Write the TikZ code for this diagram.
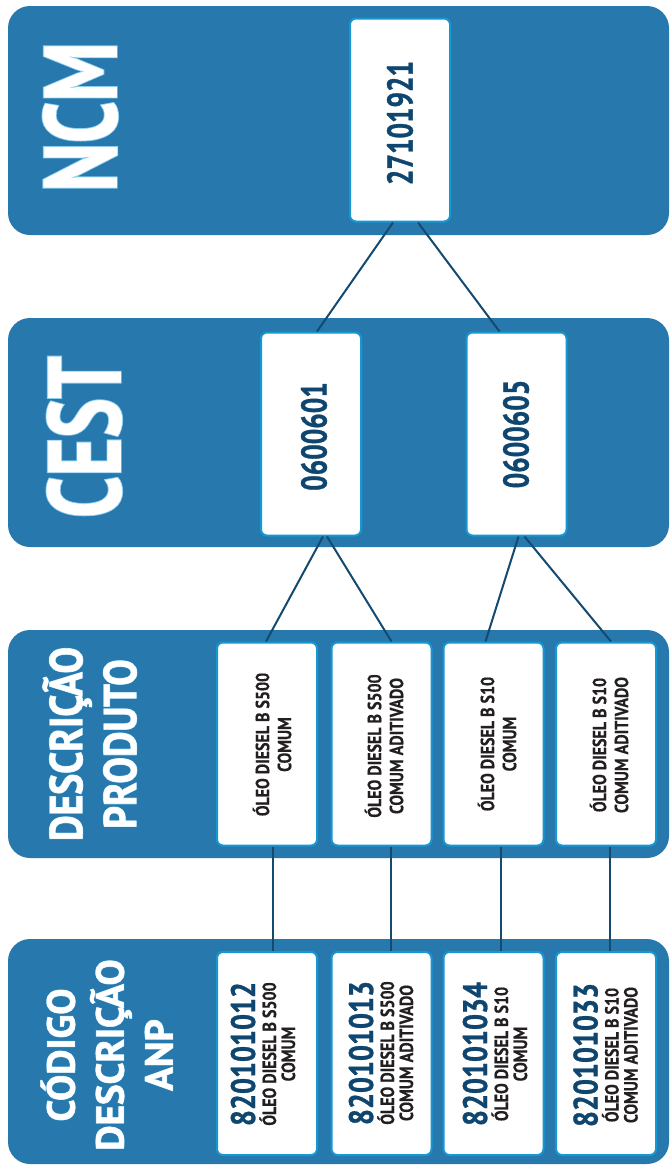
\documentclass[tikz,border=0pt]{standalone}
\usepackage{fontspec}
\setmainfont{PT Sans}
\newfontfamily\titrefont[FakeStretch=0.72]{PT Sans}
\newfontfamily\soustitrefont[FakeStretch=0.86]{PT Sans}
\newfontfamily\codefont[FakeStretch=0.76]{PT Sans}
\newfontfamily\anpfont[FakeStretch=0.83]{PT Sans}
\newfontfamily\descfont[FakeStretch=0.84]{PT Sans}
\definecolor{bleubande}{RGB}{39,120,172}
\definecolor{bleubord}{RGB}{22,152,211}
\definecolor{marine}{RGB}{14,70,112}
\definecolor{bleulien}{RGB}{20,74,112}
\definecolor{noir}{RGB}{35,31,32}
\definecolor{halo}{RGB}{140,205,240}
\newcommand{\fgrand}{\titrefont\bfseries\fontsize{103}{103}\selectfont}
\newcommand{\fmoyen}{\soustitrefont\bfseries\fontsize{46}{54}\selectfont}
\newcommand{\fpetit}{\bfseries\fontsize{39}{49}\selectfont}
\newcommand{\epais}{\addfontfeatures{FakeBold=2.5}}
\newcommand{\gras}{\addfontfeatures{FakeBold=0.8}}
\newcommand{\anpnum}[1]{{\color{marine}\anpfont\fontsize{34}{34}\selectfont\gras #1}}
\tikzset{
	bandeau/.style={fill=bleubande, rounded corners=22pt},
	boite/.style={draw=bleubord, line width=2pt, fill=white, rounded corners=6pt,
		minimum width=100pt, minimum height=203pt, inner sep=0pt},
	titre/.style={rotate=90, anchor=south, align=center, inner sep=0pt, text=white},
	lueur/.style={titre, text=halo},
	numero/.style={rotate=90, inner sep=0pt, text=marine,
		font=\codefont\bfseries\fontsize{36}{36}\selectfont\gras},
	libelle/.style={rotate=90, align=center, inner sep=0pt, text=noir,
		font=\descfont\bfseries\fontsize{19}{22}\selectfont\addfontfeatures{FakeBold=0.5}},
	code/.style={libelle, font=\descfont\bfseries\fontsize{19}{19}\selectfont\addfontfeatures{FakeBold=0.5}},
	lien/.style={draw=bleulien, line width=2pt}
}
\begin{document}
\begin{tikzpicture}[x=1pt,y=-1pt]
	\useasboundingbox (0,0) rectangle (670,1167);
	\fill[white] (0,0) rectangle (670,1167);
	% les bandeaux
	\fill[bandeau] (8,6) rectangle (669,235);
	\fill[bandeau] (8,318) rectangle (669,547);
	\fill[bandeau] (8,630) rectangle (669,858);
	\fill[bandeau] (8,939) rectangle (669,1164);
	% les titres
	\node[lueur, font=\fgrand\epais] (ncm-l) at (118,117) {NCM};
	\node[titre, font=\fgrand\gras] (ncm-t) at (118,117) {NCM};
	\node[lueur, font=\fgrand\epais] (cest-l) at (122,437) {CEST};
	\node[titre, font=\fgrand\gras] (cest-t) at (122,437) {CEST};
	\node[lueur, font=\fmoyen\epais] (desc-l) at (137,744) {DESCRIÇÃO\\PRODUTO};
	\node[titre, font=\fmoyen\gras] (desc-t) at (137,744) {DESCRIÇÃO\\PRODUTO};
	\node[lueur, font=\fpetit\epais] (anp-l) at (173,1055) {CÓDIGO\\DESCRIÇÃO\\ANP};
	\node[titre, font=\fpetit\gras] (anp-t) at (173,1055) {CÓDIGO\\DESCRIÇÃO\\ANP};
	% les boites
	\node[boite] (ncm) at (400,120) {};
	\node[boite] (cest1) at (311,434) {};
	\node[boite] (cest2) at (516.5,434) {};
	\node[boite] (desc1) at (267,744) {};
	\node[boite] (desc2) at (381.5,744) {};
	\node[boite] (desc3) at (493.5,744) {};
	\node[boite] (desc4) at (606,744) {};
	\node[boite] (anp1) at (267,1053.5) {};
	\node[boite] (anp2) at (381.5,1053.5) {};
	\node[boite] (anp3) at (493.5,1053.5) {};
	\node[boite] (anp4) at (606,1053.5) {};
	% les textes
	\node[numero] (ncm-n) at (400,123) {27101921};
	\node[numero] (cest1-n) at (314,436.5) {0600601};
	\node[numero] (cest2-n) at (516,434) {0600605};
	\node[libelle] (desc1-t) at (272,744.5) {ÓLEO DIESEL B S500\\COMUM};
	\node[libelle] (desc2-t) at (384,746) {ÓLEO DIESEL B S500\\COMUM ADITIVADO};
	\node[libelle] (desc3-t) at (497,744) {ÓLEO DIESEL B S10\\COMUM};
	\node[libelle] (desc4-t) at (609,745) {ÓLEO DIESEL B S10\\COMUM ADITIVADO};
	\node[code] (anp1-t) at (263,1054) {\anpnum{820101012}\\[2pt]ÓLEO DIESEL B S500\\COMUM};
	\node[code] (anp2-t) at (381,1053) {\anpnum{820101013}\\[2pt]ÓLEO DIESEL B S500\\COMUM ADITIVADO};
	\node[code] (anp3-t) at (495,1054) {\anpnum{820101034}\\[2pt]ÓLEO DIESEL B S10\\COMUM};
	\node[code] (anp4-t) at (605.5,1055) {\anpnum{820101033}\\[2pt]ÓLEO DIESEL B S10\\COMUM ADITIVADO};
	% les liens
	\draw[lien] ([xshift=-7pt]ncm.south) -- ([xshift=6pt]cest1.north);
	\draw[lien] ([xshift=18pt]ncm.south) -- ([xshift=-17pt]cest2.north);
	\draw[lien] ([xshift=12pt]cest1.south) -- ([xshift=-1pt]desc1.north);
	\draw[lien] ([xshift=16pt]cest1.south) -- ([xshift=10pt]desc2.north);
	\draw[lien] ([xshift=2pt]cest2.south) -- ([xshift=-8pt]desc3.north);
	\draw[lien] ([xshift=8pt]cest2.south) -- ([xshift=5pt]desc4.north);
	\draw[lien] ([xshift=6pt]desc1.south) -- ([xshift=6pt]anp1.north);
	\draw[lien] ([xshift=9pt]desc2.south) -- ([xshift=9pt]anp2.north);
	\draw[lien] ([xshift=7.5pt]desc3.south) -- ([xshift=7.5pt]anp3.north);
	\draw[lien] ([xshift=4pt]desc4.south) -- ([xshift=4pt]anp4.north);
\end{tikzpicture}
\end{document}
